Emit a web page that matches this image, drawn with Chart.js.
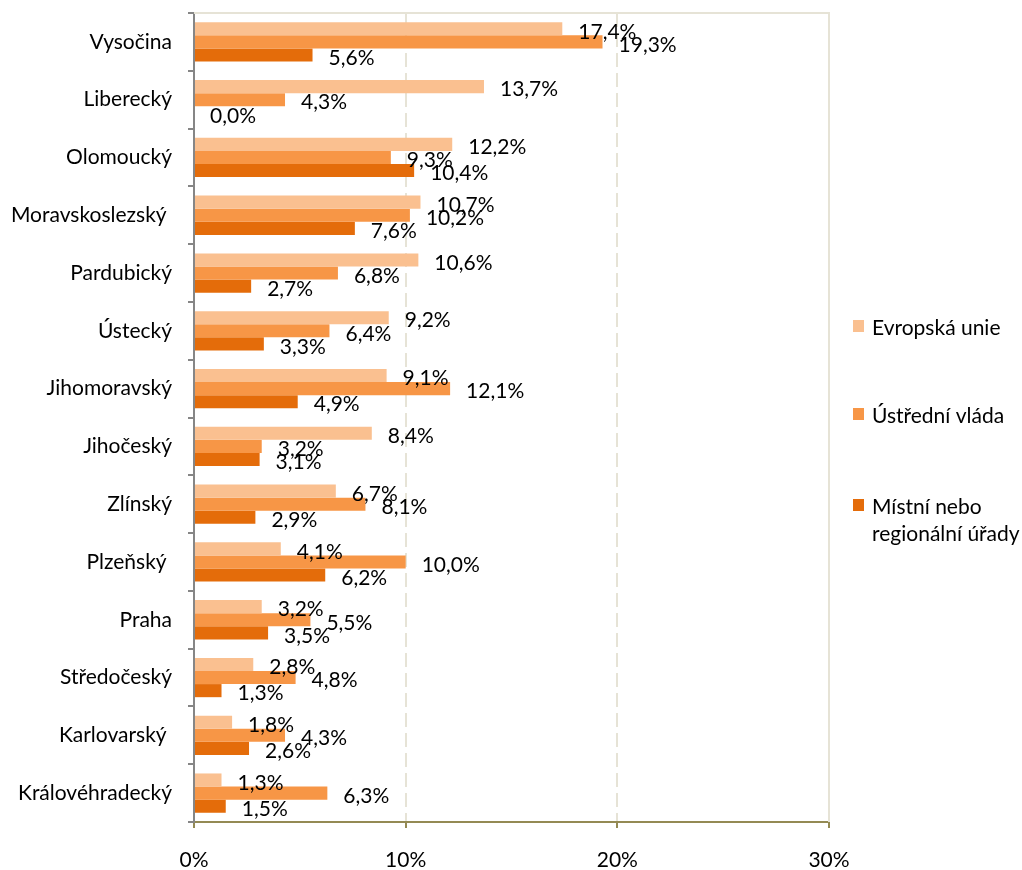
<!DOCTYPE html>
<html>
<head>
<meta charset="utf-8">
<script src="https://cdn.jsdelivr.net/npm/chart.js@4/dist/chart.umd.min.js"></script>
<style>
  html, body { margin: 0; padding: 0; background: #fff; }
  #wrap { position: relative; width: 1022px; height: 870px; }
</style>
</head>
<body>
<div id="wrap"><canvas id="regions" width="1022" height="870"></canvas></div>
<script>
// Regions (top to bottom) and shares per funding source, in %
const regions = [
  'Vysočina', 'Liberecký', 'Olomoucký', 'Moravskoslezský ', 'Pardubický', 'Ústecký',
  'Jihomoravský', 'Jihočeský', 'Zlínský', 'Plzeňský ', 'Praha', 'Středočeský',
  'Karlovarský ', 'Královéhradecký'
];
const evropskaUnie = [17.4, 13.7, 12.2, 10.7, 10.6, 9.2, 9.1, 8.4, 6.7, 4.1, 3.2, 2.8, 1.8, 1.3];
const ustredniVlada = [19.3, 4.3, 9.3, 10.2, 6.8, 6.4, 12.1, 3.2, 8.1, 10.0, 5.5, 4.8, 4.3, 6.3];
const mistniUrady = [5.6, 0.0, 10.4, 7.6, 2.7, 3.3, 4.9, 3.1, 2.9, 6.2, 3.5, 1.3, 2.6, 1.5];
const seriesNames = ['Evropská unie', 'Ústřední vláda', ['Místní nebo', 'regionální úřady']];
const xTicks = [0, 10, 20, 30];

const COLORS = ['#FAC090', '#F79646', '#E46C0A'];
const FONT = 'Lato, "Open Sans", sans-serif';
const FONT_SIZE = 21;

// value labels just past the end of each bar
const valueLabels = {
  id: 'valueLabels',
  afterDatasetsDraw(chart) {
    const ctx = chart.ctx;
    ctx.save();
    ctx.font = FONT_SIZE + 'px ' + FONT;
    ctx.fillStyle = '#000';
    ctx.textAlign = 'left';
    ctx.textBaseline = 'middle';
    chart.data.datasets.forEach((ds, i) => {
      chart.getDatasetMeta(i).data.forEach((bar, j) => {
        const txt = ds.data[j].toFixed(1).replace('.', ',') + '%';
        ctx.fillText(txt, bar.x + 16, bar.y + 3);
      });
    });
    ctx.restore();
  }
};

// plot frame (top/right) and legend on the right
const frameAndLegend = {
  id: 'frameAndLegend',
  beforeDatasetsDraw(chart) {
    const { ctx, chartArea: a } = chart;
    ctx.save();
    ctx.strokeStyle = '#E6E3D6';
    ctx.lineWidth = 2;
    ctx.beginPath();
    ctx.moveTo(a.left, a.top);
    ctx.lineTo(a.right, a.top);
    ctx.lineTo(a.right, a.bottom);
    ctx.stroke();
    ctx.restore();
  },
  afterDraw(chart) {
    const ctx = chart.ctx;
    const rows = [326, 414, 505];
    ctx.save();
    ctx.font = FONT_SIZE + 'px ' + FONT;
    ctx.textAlign = 'left';
    ctx.textBaseline = 'middle';
    seriesNames.forEach((name, i) => {
      ctx.fillStyle = COLORS[i];
      ctx.fillRect(853, rows[i] - 6, 11, 12);
      ctx.fillStyle = '#000';
      const lines = Array.isArray(name) ? name : [name];
      lines.forEach((ln, k) => ctx.fillText(ln, 872, rows[i] + 2 + k * 27));
    });
    ctx.restore();
  }
};

new Chart(document.getElementById('regions'), {
  type: 'bar',
  data: {
    labels: regions,
    datasets: [
      { label: 'Evropská unie', data: evropskaUnie, backgroundColor: COLORS[0] },
      { label: 'Ústřední vláda', data: ustredniVlada, backgroundColor: COLORS[1] },
      { label: 'Místní nebo regionální úřady', data: mistniUrady, backgroundColor: COLORS[2] }
    ]
  },
  options: {
    indexAxis: 'y',
    responsive: false,
    animation: false,
    categoryPercentage: 0.68,
    barPercentage: 1,
    layout: { padding: { top: 13, right: 193, left: 0, bottom: 0 } },
    plugins: { legend: { display: false }, tooltip: { enabled: false } },
    scales: {
      x: {
        min: 0,
        max: 30,
        afterBuildTicks(scale) { scale.ticks = xTicks.map(v => ({ value: v })); },
        afterFit(scale) { scale.height = 48; },
        ticks: {
          callback: v => v + '%',
          color: '#000',
          font: { family: FONT, size: FONT_SIZE },
          padding: 20
        },
        grid: {
          color: '#E6E3D6',
          lineWidth: 2,
          tickColor: '#948A54',
          tickLength: 6,
          tickWidth: 2
        },
        border: { color: '#948A54', width: 2, dash: [14, 6] }
      },
      y: {
        afterFit(scale) {
          scale.width = 194;
          scale.paddingTop = 0;
          scale.paddingBottom = 0;
        },
        ticks: {
          color: '#000',
          font: { family: FONT, size: FONT_SIZE },
          padding: 16
        },
        grid: {
          offset: true,
          drawOnChartArea: false,
          color: '#868686',
          tickLength: 6,
          lineWidth: 2
        },
        border: { color: '#868686', width: 2 }
      }
    }
  },
  plugins: [valueLabels, frameAndLegend]
});
</script>
</body>
</html>
